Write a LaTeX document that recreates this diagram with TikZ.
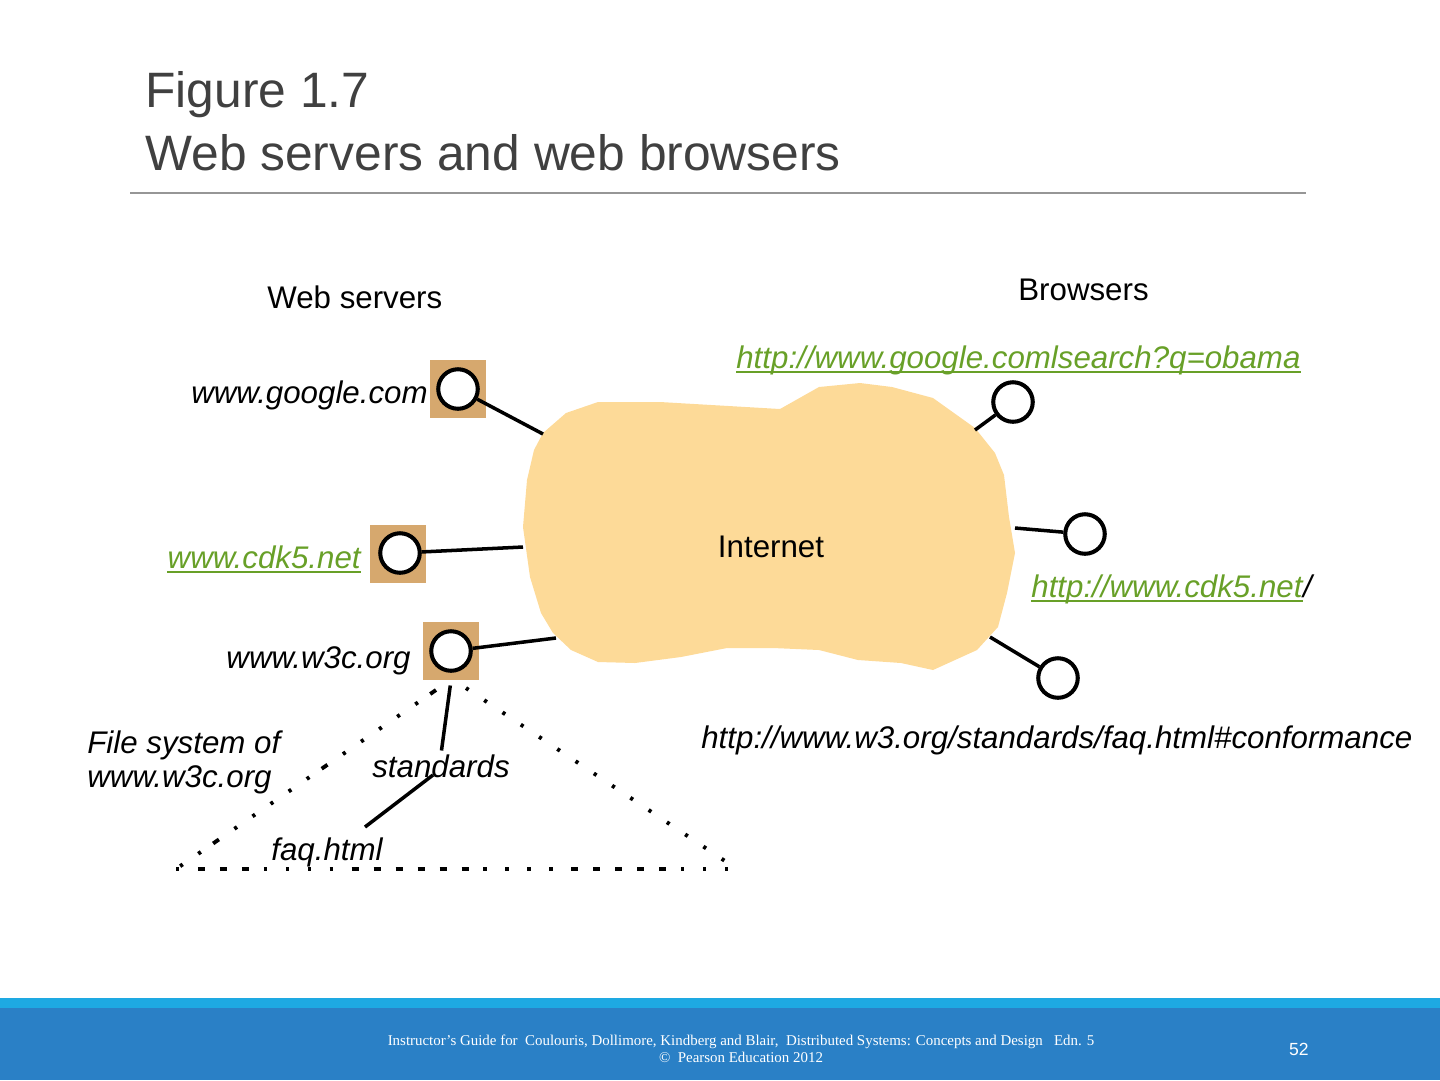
\documentclass[tikz,border=0pt]{standalone}
\usepackage{fontspec}
\setmainfont{Liberation Sans}
\newfontfamily\footfont{Liberation Serif}
\usetikzlibrary{positioning}
\definecolor{cloudfill}{RGB}{253,218,152}
\definecolor{servertan}{RGB}{214,168,110}
\definecolor{linkgreen}{RGB}{104,160,40}
\definecolor{titlegray}{RGB}{64,64,64}
\definecolor{rulegray}{RGB}{150,150,150}
\definecolor{footdark}{RGB}{42,128,198}
\definecolor{footlight}{RGB}{30,169,226}
\pgfmathsetmacro{\bodysize}{17.8}
\pgfmathsetmacro{\titlesize}{28.3}
\tikzset{
  server/.style={rectangle, fill=servertan, minimum width=31.7pt, minimum height=32.9pt, inner sep=0pt},
  host/.style={circle, draw, line width=2.3pt, fill=white, minimum size=22.5pt, inner sep=0pt},
  wire/.style={line width=2pt},
  lbl/.style={inner sep=0pt, font=\fontsize{\bodysize}{20}\selectfont},
  itlbl/.style={inner sep=0pt, font=\fontsize{\bodysize}{20}\selectfont\itshape},
  fsdot/.style={line width=2.2pt, dash pattern=on 1.8pt off 10.7pt},
  fsmix/.style={line width=2.2pt, dash pattern=on 4pt off 8.5pt on 1.8pt off 10.7pt on 1.8pt off 10.7pt
      on 1.8pt off 10.7pt on 1.8pt off 10.7pt on 1.8pt off 10.7pt},
  fsbase/.style={line width=2.2pt, dash pattern=on 1.8pt off 10.7pt
      on 4pt off 8.5pt on 4pt off 8.5pt on 4pt off 8.5pt
      on 1.8pt off 10.7pt on 1.8pt off 10.7pt on 1.8pt off 10.7pt on 1.8pt off 10.7pt
      on 4pt off 8.5pt on 4pt off 8.5pt on 4pt off 8.5pt on 4pt off 8.5pt on 4pt off 8.5pt on 4pt off 8.5pt
      on 1.8pt off 10.7pt on 1.8pt off 10.7pt on 1.8pt off 10.7pt on 1.8pt off 10.7pt
      on 4pt off 8.5pt on 4pt off 8.5pt on 4pt off 8.5pt on 4pt off 8.5pt on 4pt off 8.5pt
      on 1.8pt off 10.7pt on 1.8pt off 10.7pt on 1.8pt off 10.7pt},
}
\begin{document}
\begin{tikzpicture}[x=0.02cm, y=-0.02cm]
    \useasboundingbox (0,0) rectangle (1440,1080);
    % title
    \node[inner sep=0pt, anchor=base west, text=titlegray, font=\fontsize{\titlesize}{34}\selectfont] (title_fig) at (145,107) {Figure 1.7};
    \node[inner sep=0pt, anchor=base west, text=titlegray, font=\fontsize{\titlesize}{34}\selectfont] (title_text) at (145,170) {Web servers and web browsers};
    \draw[rulegray, line width=0.6pt] (130,193) -- (1306,193);
    % internet cloud
    \fill[cloudfill] (598,402) -- (660,402) -- (780,409) -- (819,387) -- (860,383) -- (892,387)
        -- (933,398) -- (975,428) -- (995,453) -- (1004,475) -- (1009,517) -- (1015,553)
        -- (1007,593) -- (998,627) -- (977,650) -- (933,670) -- (901,663) -- (858,660)
        -- (819,650) -- (773,648) -- (727,648) -- (681,657) -- (635,663) -- (598,662)
        -- (571,650) -- (553,633) -- (541,613) -- (530,577) -- (523,527) -- (527,480)
        -- (534,450) -- (543,433) -- (566,413) -- cycle;
    \node[lbl, anchor=base] (lbl_internet) at (771,557) {Internet};
    % points where the wires meet the cloud
    \coordinate (cloud_google) at (543,434);
    \coordinate (cloud_cdk5) at (523,547);
    \coordinate (cloud_w3c) at (556,638);
    \coordinate (cloud_search) at (975,430);
    \coordinate (cloud_home) at (1015,528);
    \coordinate (cloud_faq) at (990,637);
    % web servers
    \node[server] (box_google) at (458,389) {};
    \node[host] (srv_google) at (box_google) {};
    \node[server] (box_cdk5) at (398,554) {};
    \node[host] (srv_cdk5) at (400,553) {};
    \node[server] (box_w3c) at (451,651) {};
    \node[host] (srv_w3c) at (box_w3c) {};
    % browsers
    \node[host] (br_search) at (1013,402) {};
    \node[host] (br_home) at (1085,534) {};
    \node[host] (br_faq) at (1058,678) {};
    % wires
    \draw[wire] (srv_google) -- (cloud_google);
    \draw[wire] (srv_cdk5) -- (cloud_cdk5);
    \draw[wire] (srv_w3c) -- (cloud_w3c);
    \draw[wire] (br_search) -- (cloud_search);
    \draw[wire] (br_home) -- (cloud_home);
    \draw[wire] (br_faq) -- (cloud_faq);
    % labels
    \node[lbl, anchor=base west] (lbl_servers) at (267,308) {Web servers};
    \node[lbl, anchor=base west] (lbl_browsers) at (1018,300) {Browsers};
    \node[itlbl, anchor=base east] (name_google) at (428,403) {www.google.com};
    \node[itlbl, anchor=base east, text=linkgreen] (name_cdk5) at (361,568) {www.cdk5.net};
    \node[itlbl, anchor=base east] (name_w3c) at (411,668) {www.w3c.org};
    \node[itlbl, anchor=base west, text=linkgreen] (url_google) at (736,368) {http://www.google.comlsearch?q=obama};
    \node[itlbl, anchor=base west, text=linkgreen] (url_cdk5) at (1031,597) {http://www.cdk5.net};
    \node[itlbl, anchor=base west] (url_slash) at (url_cdk5.base east) {/};
    \node[itlbl, anchor=base west] (url_w3) at (701,748) {http://www.w3.org/standards/faq.html\#conformance};
    \foreach \n in {url_google,name_cdk5,url_cdk5}
        \draw[linkgreen, line width=1.1pt] ([yshift=-2.5pt]\n.base west) -- ([yshift=-2.5pt]\n.base east);
    % file system of www.w3c.org
    \node[itlbl, anchor=base west] (lbl_fs) at (87,753) {File system of};
    \node[itlbl, anchor=base west] (lbl_fs_host) at (87,787) {www.w3c.org};
    \node[itlbl, anchor=base west] (file_standards) at (372,777) {standards};
    \node[itlbl, anchor=base west] (file_faq) at (271,860) {faq.html};
    \coordinate (std_out) at (433,775);
    \coordinate (faq_in) at (365,827);
    \draw[wire, shorten <=3pt, shorten >=2pt] (box_w3c.south) -- (file_standards.north);
    \draw[wire] (std_out) -- (faq_in);
    \coordinate (fs_top_l) at (436,690);
    \coordinate (fs_top_r) at (466,688);
    \coordinate (fs_left) at (176,869);
    \coordinate (fs_right) at (737,869);
    \draw[fsmix] (fs_top_l) -- (fs_left);
    \draw[fsdot] (fs_top_r) -- (fs_right);
    \draw[fsbase] (fs_left) -- (fs_right);
    % footer
    \fill[footlight] (0,998) rectangle (1440,1008);
    \fill[footdark] (0,1008) rectangle (1440,1080);
    \node[inner sep=0pt, anchor=base, text=white, font=\footfont\fontsize{8.5}{10}\selectfont] (foot_book) at (741,1045)
        {Instructor’s Guide for \ Coulouris, Dollimore, Kindberg and Blair, \ Distributed Systems: Concepts and Design \ \ Edn. 5};
    \node[inner sep=0pt, anchor=base, text=white, font=\footfont\fontsize{8.5}{10}\selectfont] (foot_copy) at (741,1062)
        {© \ Pearson Education 2012};
    \node[inner sep=0pt, anchor=base east, text=white, font=\fontsize{10}{12}\selectfont] (foot_page) at (1309,1055) {52};
\end{tikzpicture}
\end{document}
